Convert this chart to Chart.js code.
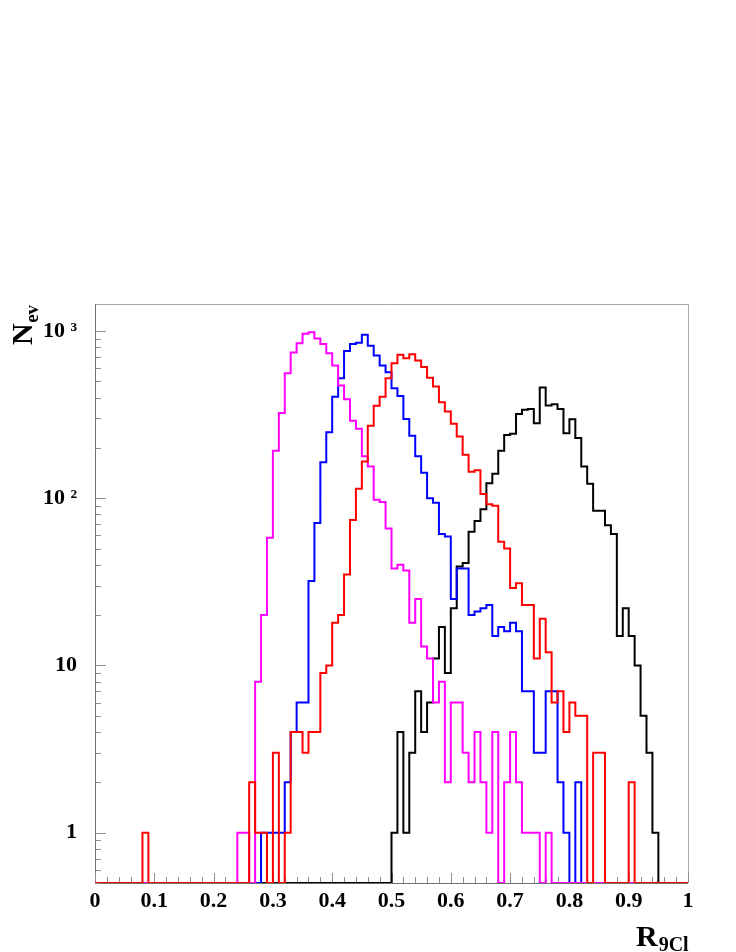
<!DOCTYPE html>
<html>
<head>
<meta charset="utf-8">
<script src="https://cdn.jsdelivr.net/npm/chart.js@4.4.1/dist/chart.umd.min.js"></script>
<style>
html,body{margin:0;padding:0;background:#fff;}
#wrap{width:736px;height:952px;position:relative;}
canvas{display:block;}
</style>
</head>
<body>
<div id="wrap"><canvas id="c" width="736" height="952"></canvas></div>
<script>
// ---- data: counts per bin, bins of width 0.01 from 0 to 1 ----
const binWidth = 0.01;
const nBins = 100;

const redCounts = [
  0,0,0,0,0,0,0,0,1,0,
  0,0,0,0,0,0,0,0,0,0,
  0,0,0,0,0,0,2,1,1,0,
  3,0,1,4,4,3,4,4,9,10,
  18,20,35,74,114,166,271,357,405,522,
  642,720,687,727,665,608,525,465,375,330,
  279,234,182,144,147,106,92,90,55,50,
  29,31,23,23,11,19,12,6,7,4,
  6,5,5,0,3,3,0,0,0,0,
  2,0,0,0,0,0,0,0,0,0
];
const magentaCounts = [
  0,0,0,0,0,0,0,0,0,0,
  0,0,0,0,0,0,0,0,0,0,
  0,0,0,0,1,1,0,8,20,58,
  192,323,559,743,845,961,984,901,837,737,
  621,472,391,291,260,178,155,98,95,66,
  38,40,37,18,25,13,11,6,8,2,
  6,6,3,2,4,2,1,4,0,2,
  4,2,1,1,1,0,1,0,0,0,
  0,0,0,0,0,0,0,0,0,0,
  0,0,0,0,0,0,0,0,0,0
];
const blueCounts = [
  0,0,0,0,0,0,0,0,0,0,
  0,0,0,0,0,0,0,0,0,0,
  0,0,0,0,0,0,0,0,1,1,
  1,1,2,4,6,6,32,71,164,248,
  405,522,760,837,850,948,815,713,621,567,
  455,409,298,236,178,142,100,94,61,59,
  25,38,38,20,21,22,23,15,17,16,
  18,16,7,7,3,3,7,7,2,1,
  0,2,0,0,0,0,0,0,0,0,
  0,0,0,0,0,0,0,0,0,0
];
const blackCounts = [
  0,0,0,0,0,0,0,0,0,0,
  0,0,0,0,0,0,0,0,0,0,
  0,0,0,0,0,0,0,0,0,0,
  0,0,0,0,0,0,0,0,0,0,
  0,0,0,0,0,0,0,0,0,0,
  1,4,1,3,7,4,6,11,17,9,
  22,39,41,63,73,86,123,140,192,239,
  243,319,338,341,281,459,358,365,341,245,
  297,229,155,122,84,84,69,61,15,22,
  15,10,5,3,1,0,0,0,0,0
];

const xTickValues = [0,0.1,0.2,0.3,0.4,0.5,0.6,0.7,0.8,0.9,1];
const xTickLabels = ['0','0.1','0.2','0.3','0.4','0.5','0.6','0.7','0.8','0.9','1'];
const yTickValues = [1,10,100,1000];
const yTickLabels = ['1','10','10 \u00B2','10 \u00B3'];
const yMin = 0.5, yMax = 1450;

function histPoints(counts){
  const pts = counts.map((c,i)=>({x: i*binWidth, y: c > 0 ? c : yMin}));
  pts.push({x: nBins*binWidth, y: counts[counts.length-1] > 0 ? counts[counts.length-1] : yMin});
  return pts;
}
function ds(counts, color){
  return {data: histPoints(counts), borderColor: color, borderWidth: 2, stepped: 'before',
          pointRadius: 0, fill: false, tension: 0, clip: {left: 1, top: 2, right: 1, bottom: 0}};
}

const serif = '"Liberation Serif", "Times New Roman", serif';

const framePlugin = {
  id: 'rootframe',
  beforeDatasetsDraw(chart){
    const ctx = chart.ctx, a = chart.chartArea, xs = chart.scales.x, ys = chart.scales.y;
    ctx.save();
    ctx.lineWidth = 1;
    ctx.strokeStyle = '#a8a8a8';
    ctx.beginPath();
    ctx.moveTo(a.left, a.top+0.5); ctx.lineTo(a.right+0.5, a.top+0.5); ctx.lineTo(a.right+0.5, a.bottom);
    ctx.stroke();
    ctx.strokeStyle = '#707070';
    ctx.beginPath();
    ctx.moveTo(a.left+0.5, a.top); ctx.lineTo(a.left+0.5, a.bottom+0.5); ctx.lineTo(a.right, a.bottom+0.5);
    ctx.stroke();
    ctx.strokeStyle = '#909090';
    ctx.beginPath();
    for (let k=0;k<=50;k++){
      const v = k/50;
      const px = Math.round(xs.getPixelForValue(v))+0.5;
      const len = (k%5===0) ? 10 : 6;
      ctx.moveTo(px, a.bottom); ctx.lineTo(px, a.bottom-len);
    }
    const decades = [0.1,1,10,100,1000];
    decades.forEach(d=>{
      for (let m=1;m<=9;m++){
        const v = m*d;
        if (v < yMin || v > yMax) continue;
        const py = Math.round(ys.getPixelForValue(v))+0.5;
        const len = (m===1) ? 11 : 6;
        ctx.moveTo(a.left, py); ctx.lineTo(a.left+len, py);
      }
    });
    ctx.stroke();
    ctx.restore();
  },
  afterDraw(chart){
    const ctx = chart.ctx;
    ctx.save();
    ctx.fillStyle = '#000';
    ctx.textBaseline = 'alphabetic';
    ctx.save();
    ctx.translate(32, 345);
    ctx.rotate(-Math.PI/2);
    ctx.font = 'bold 30px ' + serif;
    ctx.fillText('N', 0, 0);
    const wN = ctx.measureText('N').width;
    ctx.font = 'bold 19px ' + serif;
    ctx.fillText('ev', wN + 0.5, 6);
    ctx.restore();
    ctx.font = 'bold 30px ' + serif;
    ctx.fillText('R', 636, 946);
    const wR = ctx.measureText('R').width;
    ctx.font = 'bold 20px ' + serif;
    ctx.fillText('9Cl', 636 + wR + 1, 951);
    ctx.restore();
  }
};

new Chart(document.getElementById('c').getContext('2d'), {
  type: 'line',
  data: {
    datasets: [
      ds(redCounts, '#ff0000'),
      ds(magentaCounts, '#ff00ff'),
      ds(blueCounts, '#0000ff'),
      ds(blackCounts, '#000000')
    ]
  },
  options: {
    responsive: false,
    animation: false,
    devicePixelRatio: 1,
    layout: {padding: {left: 0, right: 48, top: 304, bottom: 0}},
    plugins: {legend: {display: false}, tooltip: {enabled: false}, title: {display: false}},
    elements: {point: {radius: 0}},
    scales: {
      x: {
        type: 'linear', min: 0, max: 1,
        afterFit: s => { s.height = 69; },
        afterBuildTicks: s => { s.ticks = xTickValues.map(v => ({value: v})); },
        ticks: {autoSkip: false, maxRotation: 0, minRotation: 0, padding: 5, color: '#000',
                font: {family: serif, weight: 'bold', size: 22},
                callback: (v, i) => xTickLabels[i]},
        grid: {display: false, drawTicks: false},
        border: {display: false}
      },
      y: {
        type: 'logarithmic', min: yMin, max: yMax,
        afterFit: s => { s.width = 95; },
        afterBuildTicks: s => { s.ticks = yTickValues.map(v => ({value: v})); },
        ticks: {autoSkip: false, padding: 18, color: '#000',
                font: {family: serif, weight: 'bold', size: 22},
                callback: (v, i) => yTickLabels[i]},
        grid: {display: false, drawTicks: false},
        border: {display: false}
      }
    }
  },
  plugins: [framePlugin]
});
</script>
</body>
</html>
